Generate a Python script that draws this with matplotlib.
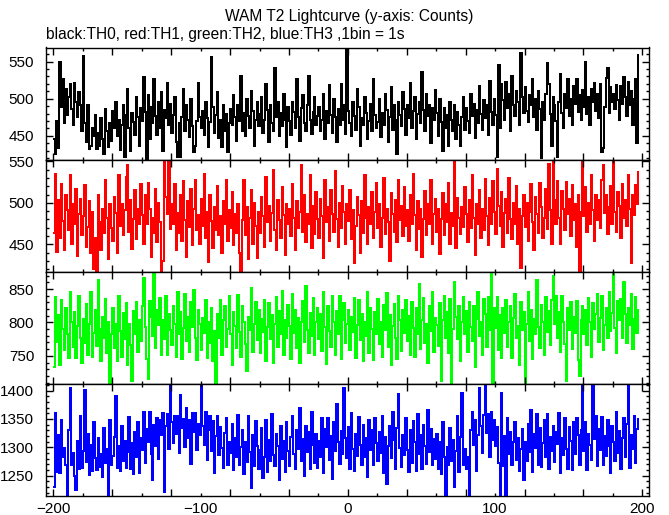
import numpy as np
import matplotlib
matplotlib.use("Agg")
import matplotlib.pyplot as plt
from matplotlib.ticker import MultipleLocator

plt.rcParams["font.family"] = ["Liberation Sans", "DejaVu Sans"]

# ── data: counts per 1 s bin, bins start at -200 s ──────────────────────────
t_start = -200

th0 = [
    446, 425, 470, 433, 549, 489, 526, 467, 513, 478, 502, 520, 486, 464, 521, 496, 475, 509, 492, 457,
    557, 467, 442, 492, 432, 436, 461, 450, 478, 432, 454, 437, 474, 446, 425, 486, 457, 435, 467, 443,
    484, 461, 496, 450, 472, 431, 465, 491, 422, 478, 513, 460, 429, 481, 468, 451, 503, 475, 436, 488,
    470, 529, 482, 418, 505, 446, 489, 467, 526, 477, 451, 496, 461, 509, 430, 485, 474, 521, 464, 493,
    454, 478, 502, 442, 421, 467, 422, 475, 513, 456, 492, 472, 449, 499, 463, 428, 437, 470, 521, 475,
    461, 484, 451, 495, 474, 435, 468, 556, 489, 454, 478, 509, 447, 471, 435, 492, 457, 479, 428, 467,
    486, 465, 505, 475, 443, 492, 470, 530, 457, 481, 450, 500, 477, 461, 510, 484, 437, 471, 495, 463,
    479, 502, 454, 472, 520, 485, 442, 492, 467, 456, 541, 475, 496, 450, 481, 463, 507, 471, 435, 489,
    470, 451, 495, 482, 461, 526, 475, 443, 488, 505, 467, 457, 492, 530, 472, 453, 482, 502, 464, 477,
    489, 457, 472, 507, 446, 484, 467, 519, 478, 454, 499, 475, 442, 486, 465, 520, 471, 492, 453, 569,
    484, 467, 450, 496, 477, 458, 513, 489, 437, 474, 464, 503, 481, 446, 470, 493, 457, 527, 478, 461,
    468, 499, 449, 481, 464, 506, 485, 442, 475, 516, 458, 491, 471, 426, 495, 478, 463, 509, 486, 451,
    492, 474, 521, 461, 484, 503, 446, 479, 496, 467, 536, 485, 456, 507, 477, 492, 440, 488, 471, 512,
    481, 450, 499, 468, 430, 488, 461, 478, 437, 495, 472, 456, 491, 446, 482, 465, 436, 475, 502, 458,
    488, 470, 454, 506, 477, 493, 447, 485, 467, 517, 479, 458, 498, 474, 491, 451, 524, 482, 464, 500,
    478, 422, 546, 461, 520, 498, 472, 523, 488, 506, 457, 530, 492, 477, 510, 495, 465, 561, 503, 481,
    516, 484, 468, 505, 492, 526, 475, 499, 458, 510, 486, 420, 495, 471, 507, 548, 520, 479, 436, 502,
    492, 470, 421, 496, 533, 481, 461, 506, 488, 526, 477, 500, 465, 517, 493, 527, 482, 505, 472, 512,
    489, 550, 479, 502, 464, 513, 495, 521, 484, 507, 474, 520, 428, 433, 489, 528, 541, 481, 516, 496,
    506, 486, 519, 498, 471, 517, 493, 529, 503, 477, 523, 491, 510, 465, 500, 526, 440, 559,
]

th1 = [
    464, 535, 441, 503, 458, 523, 478, 443, 510, 491, 467, 534, 451, 498, 474, 517, 436, 486, 505, 461,
    484, 521, 447, 471, 502, 440, 489, 420, 458, 418, 509, 477, 443, 493, 464, 528, 482, 432, 499, 470,
    454, 507, 488, 439, 533, 472, 498, 461, 491, 531, 545, 465, 503, 444, 481, 516, 457, 492, 475, 523,
    485, 450, 510, 474, 524, 493, 435, 482, 464, 517, 453, 500, 477, 417, 430, 552, 507, 486, 551, 468,
    498, 475, 523, 443, 488, 464, 509, 454, 526, 479, 435, 502, 471, 517, 449, 492, 527, 467, 485, 451,
    505, 472, 535, 458, 489, 429, 510, 478, 446, 495, 467, 520, 461, 484, 440, 502, 475, 527, 454, 491,
    470, 513, 449, 486, 464, 499, 439, 417, 479, 527, 461, 495, 432, 482, 516, 451, 500, 472, 433, 489,
    464, 507, 484, 447, 531, 477, 496, 454, 488, 540, 467, 443, 503, 479, 458, 519, 485, 437, 498, 474,
    492, 460, 523, 482, 443, 502, 470, 489, 546, 465, 509, 453, 486, 475, 534, 446, 496, 463, 513, 481,
    458, 505, 484, 433, 527, 477, 495, 454, 516, 486, 465, 538, 481, 447, 500, 470, 520, 489, 451, 499,
    478, 516, 456, 491, 428, 472, 507, 485, 439, 502, 464, 533, 482, 450, 495, 474, 513, 458, 489, 524,
    470, 499, 447, 482, 530, 463, 492, 477, 430, 512, 486, 465, 503, 453, 528, 479, 496, 460, 519, 472,
    491, 454, 509, 475, 535, 485, 443, 502, 468, 492, 435, 481, 514, 461, 498, 474, 528, 450, 486, 505,
    465, 493, 438, 481, 512, 461, 499, 477, 524, 451, 488, 472, 552, 446, 506, 482, 463, 495, 471, 519,
    486, 453, 503, 470, 534, 482, 437, 499, 475, 516, 458, 492, 467, 529, 484, 449, 506, 474, 526, 489,
    463, 541, 496, 472, 513, 447, 488, 505, 464, 530, 481, 456, 500, 475, 520, 451, 492, 422, 484, 510,
    471, 500, 454, 489, 523, 477, 443, 507, 486, 464, 524, 495, 458, 482, 517, 468, 547, 491, 450, 552,
    503, 474, 526, 482, 451, 514, 492, 467, 525, 486, 505, 460, 521, 479, 498, 447, 510, 417, 489, 552,
    484, 519, 465, 500, 475, 534, 491, 454, 510, 479, 503, 470, 527, 545, 488, 509, 463, 495, 520, 475,
    552, 489, 465, 513, 496, 458, 523, 482, 503, 472, 533, 492, 428, 509, 485, 521, 498, 537,
]

th2 = [
    733, 838, 770, 811, 737, 833, 790, 759, 821, 783, 747, 846, 800, 763, 815, 747, 794, 840, 776, 740,
    805, 769, 828, 751, 797, 845, 748, 784, 818, 765, 863, 790, 742, 808, 777, 835, 755, 801, 708, 782,
    821, 762, 797, 743, 840, 787, 748, 814, 775, 829, 737, 798, 766, 712, 817, 783, 831, 756, 803, 772,
    825, 866, 793, 745, 716, 832, 808, 780, 876, 762, 819, 796, 837, 751, 804, 775, 839, 751, 812, 789,
    766, 824, 798, 749, 845, 783, 815, 746, 791, 842, 772, 808, 756, 831, 793, 848, 777, 744, 818, 797,
    759, 807, 784, 833, 747, 800, 769, 822, 742, 787, 708, 812, 776, 834, 752, 803, 825, 763, 790, 840,
    782, 737, 815, 794, 762, 841, 786, 749, 825, 801, 768, 727, 808, 789, 852, 756, 797, 831, 773, 818,
    755, 805, 786, 834, 742, 793, 829, 775, 811, 740, 798, 838, 763, 817, 783, 847, 751, 803, 777, 826,
    794, 745, 843, 784, 819, 762, 807, 739, 800, 832, 770, 855, 789, 754, 814, 780, 836, 751, 801, 821,
    775, 812, 758, 846, 793, 738, 824, 787, 763, 839, 800, 751, 817, 782, 840, 745, 804, 829, 769, 797,
    819, 759, 808, 786, 836, 747, 796, 833, 773, 812, 743, 801, 779, 845, 755, 822, 790, 744, 815, 783,
    835, 768, 800, 748, 826, 789, 844, 763, 811, 736, 794, 828, 776, 745, 840, 803, 758, 819, 784, 834,
    772, 810, 751, 831, 791, 748, 821, 782, 857, 761, 804, 836, 769, 798, 740, 824, 787, 845, 756, 807,
    796, 765, 829, 713, 803, 840, 777, 815, 754, 835, 710, 790, 861, 808, 775, 825, 742, 800, 838, 783,
    817, 756, 831, 793, 772, 824, 734, 805, 846, 780, 800, 751, 835, 812, 763, 838, 789, 876, 708, 822,
    791, 838, 759, 811, 747, 821, 784, 833, 763, 801, 825, 747, 807, 842, 776, 794, 737, 831, 789, 815,
    708, 798, 845, 772, 819, 745, 805, 783, 864, 793, 762, 826, 801, 751, 838, 786, 817, 766, 833, 869,
    797, 840, 777, 815, 756, 839, 800, 768, 713, 821, 789, 831, 761, 808, 784, 832, 744, 720, 803, 825,
    782, 818, 766, 836, 800, 749, 829, 790, 812, 842, 770, 807, 839, 759, 796, 822, 777, 845, 787, 814,
    876, 791, 754, 832, 803, 835, 777, 861, 812, 769, 821, 796, 843, 761, 805, 838, 784, 818,
]

th3 = [
    1230, 1360, 1257, 1321, 1255, 1348, 1282, 1299, 1268, 1214, 1331, 1405, 1268, 1290, 1249, 1224, 1311, 1262, 1355, 1263,
    1293, 1402, 1274, 1324, 1251, 1304, 1258, 1344, 1281, 1260, 1317, 1265, 1289, 1247, 1334, 1272, 1297, 1214, 1349, 1269,
    1285, 1318, 1390, 1264, 1302, 1258, 1337, 1276, 1311, 1264, 1292, 1353, 1261, 1307, 1253, 1327, 1282, 1345, 1254, 1316,
    1295, 1362, 1272, 1332, 1310, 1362, 1288, 1242, 1339, 1303, 1352, 1279, 1348, 1321, 1360, 1221, 1337, 1358, 1297, 1412,
    1345, 1307, 1356, 1324, 1356, 1290, 1393, 1334, 1350, 1300, 1369, 1317, 1349, 1271, 1360, 1327, 1361, 1295, 1342, 1321,
    1410, 1337, 1304, 1363, 1278, 1330, 1355, 1293, 1346, 1254, 1320, 1356, 1286, 1335, 1299, 1263, 1325, 1351, 1269, 1309,
    1290, 1341, 1260, 1317, 1282, 1357, 1268, 1300, 1331, 1252, 1310, 1274, 1355, 1292, 1229, 1321, 1267, 1346, 1303, 1261,
    1296, 1334, 1246, 1283, 1349, 1257, 1313, 1275, 1359, 1286, 1267, 1324, 1302, 1243, 1337, 1279, 1311, 1257, 1344, 1293,
    1267, 1318, 1356, 1288, 1262, 1331, 1297, 1370, 1276, 1314, 1249, 1338, 1292, 1327, 1261, 1363, 1304, 1272, 1323, 1264,
    1311, 1282, 1351, 1255, 1332, 1300, 1352, 1278, 1320, 1244, 1344, 1293, 1376, 1309, 1271, 1328, 1289, 1405, 1316, 1281,
    1335, 1261, 1360, 1297, 1258, 1323, 1285, 1353, 1304, 1268, 1339, 1282, 1317, 1247, 1348, 1295, 1330, 1268, 1352, 1307,
    1275, 1327, 1290, 1356, 1255, 1318, 1236, 1303, 1338, 1281, 1363, 1313, 1262, 1334, 1395, 1299, 1265, 1321, 1286, 1352,
    1295, 1257, 1330, 1272, 1346, 1310, 1258, 1359, 1288, 1321, 1261, 1339, 1303, 1271, 1366, 1292, 1332, 1268, 1314, 1279,
    1324, 1261, 1309, 1253, 1344, 1283, 1214, 1300, 1268, 1334, 1276, 1313, 1230, 1293, 1356, 1257, 1318, 1396, 1269, 1297,
    1262, 1282, 1214, 1331, 1362, 1304, 1349, 1258, 1321, 1405, 1338, 1290, 1357, 1412, 1325, 1359, 1282, 1362, 1313, 1348,
    1302, 1335, 1272, 1214, 1396, 1267, 1320, 1214, 1352, 1289, 1327, 1268, 1309, 1345, 1278, 1316, 1259, 1297, 1332, 1242,
    1310, 1276, 1342, 1292, 1366, 1257, 1323, 1299, 1358, 1269, 1334, 1265, 1307, 1349, 1283, 1359, 1261, 1318, 1293, 1338,
    1274, 1327, 1306, 1360, 1254, 1317, 1286, 1351, 1297, 1262, 1335, 1311, 1260, 1344, 1289, 1352, 1321, 1269, 1331, 1412,
    1293, 1345, 1260, 1323, 1304, 1278, 1408, 1314, 1355, 1267, 1332, 1296, 1354, 1268, 1320, 1285, 1348, 1303, 1255, 1338,
    1309, 1275, 1363, 1290, 1328, 1262, 1317, 1352, 1283, 1341, 1412, 1264, 1321, 1297, 1355, 1272, 1332, 1350,
]

series = [th0, th1, th2, th3]
colors = ["black", "#ff0000", "#00ff00", "#0000ff"]
x_labels = [-200, -100, 0, 100, 200]

# ── figure ────────────────────────────────────────────────────────────────────
W, H = 669, 515
fig = plt.figure(figsize=(W / 100, H / 100), dpi=100)

left, right = 46 / W, 649 / W
top, bottom = 1 - 47.5 / H, 1 - 496 / H
ph = (top - bottom) / 4

axes = []
for i, (vals, col) in enumerate(zip(series, colors)):
    ax = fig.add_axes([left, top - (i + 1) * ph, right - left, ph])
    vals = np.asarray(vals)
    edges = t_start + np.arange(len(vals) + 1)
    ax.stairs(vals, edges, color=col, lw=1.45, baseline=None)
    ax.set_xlim(-205, 204.5)
    ax.set_ylim(vals.min(), vals.max())
    ax.xaxis.set_major_locator(MultipleLocator(40))
    ax.xaxis.set_minor_locator(MultipleLocator(20))
    ax.yaxis.set_major_locator(MultipleLocator(50))
    ax.yaxis.set_minor_locator(MultipleLocator(10))
    ax.tick_params(which="both", direction="in", top=True, right=True,
                   labelbottom=False, labelsize=11, width=1, pad=8.5)
    ax.tick_params(which="major", length=5)
    ax.tick_params(which="minor", length=2.5)
    for s in ax.spines.values():
        s.set_linewidth(1.0)
    axes.append(ax)

# x labels sit on the bottom panel only
sec = axes[-1].secondary_xaxis("bottom")
sec.set_xticks(x_labels)
sec.tick_params(length=0, labelsize=11, pad=4)
sec.spines["bottom"].set_visible(False)

fig.text(349 / W, 1 - 17 / H, "WAM T2 Lightcurve (y-axis: Counts)",
         ha="center", va="center", fontsize=11.2)
fig.text(46 / W, 1 - 35 / H, "black:TH0, red:TH1, green:TH2, blue:TH3 ,1bin = 1s",
         ha="left", va="center", fontsize=11.2)

fig.savefig("out.png", dpi=100)
